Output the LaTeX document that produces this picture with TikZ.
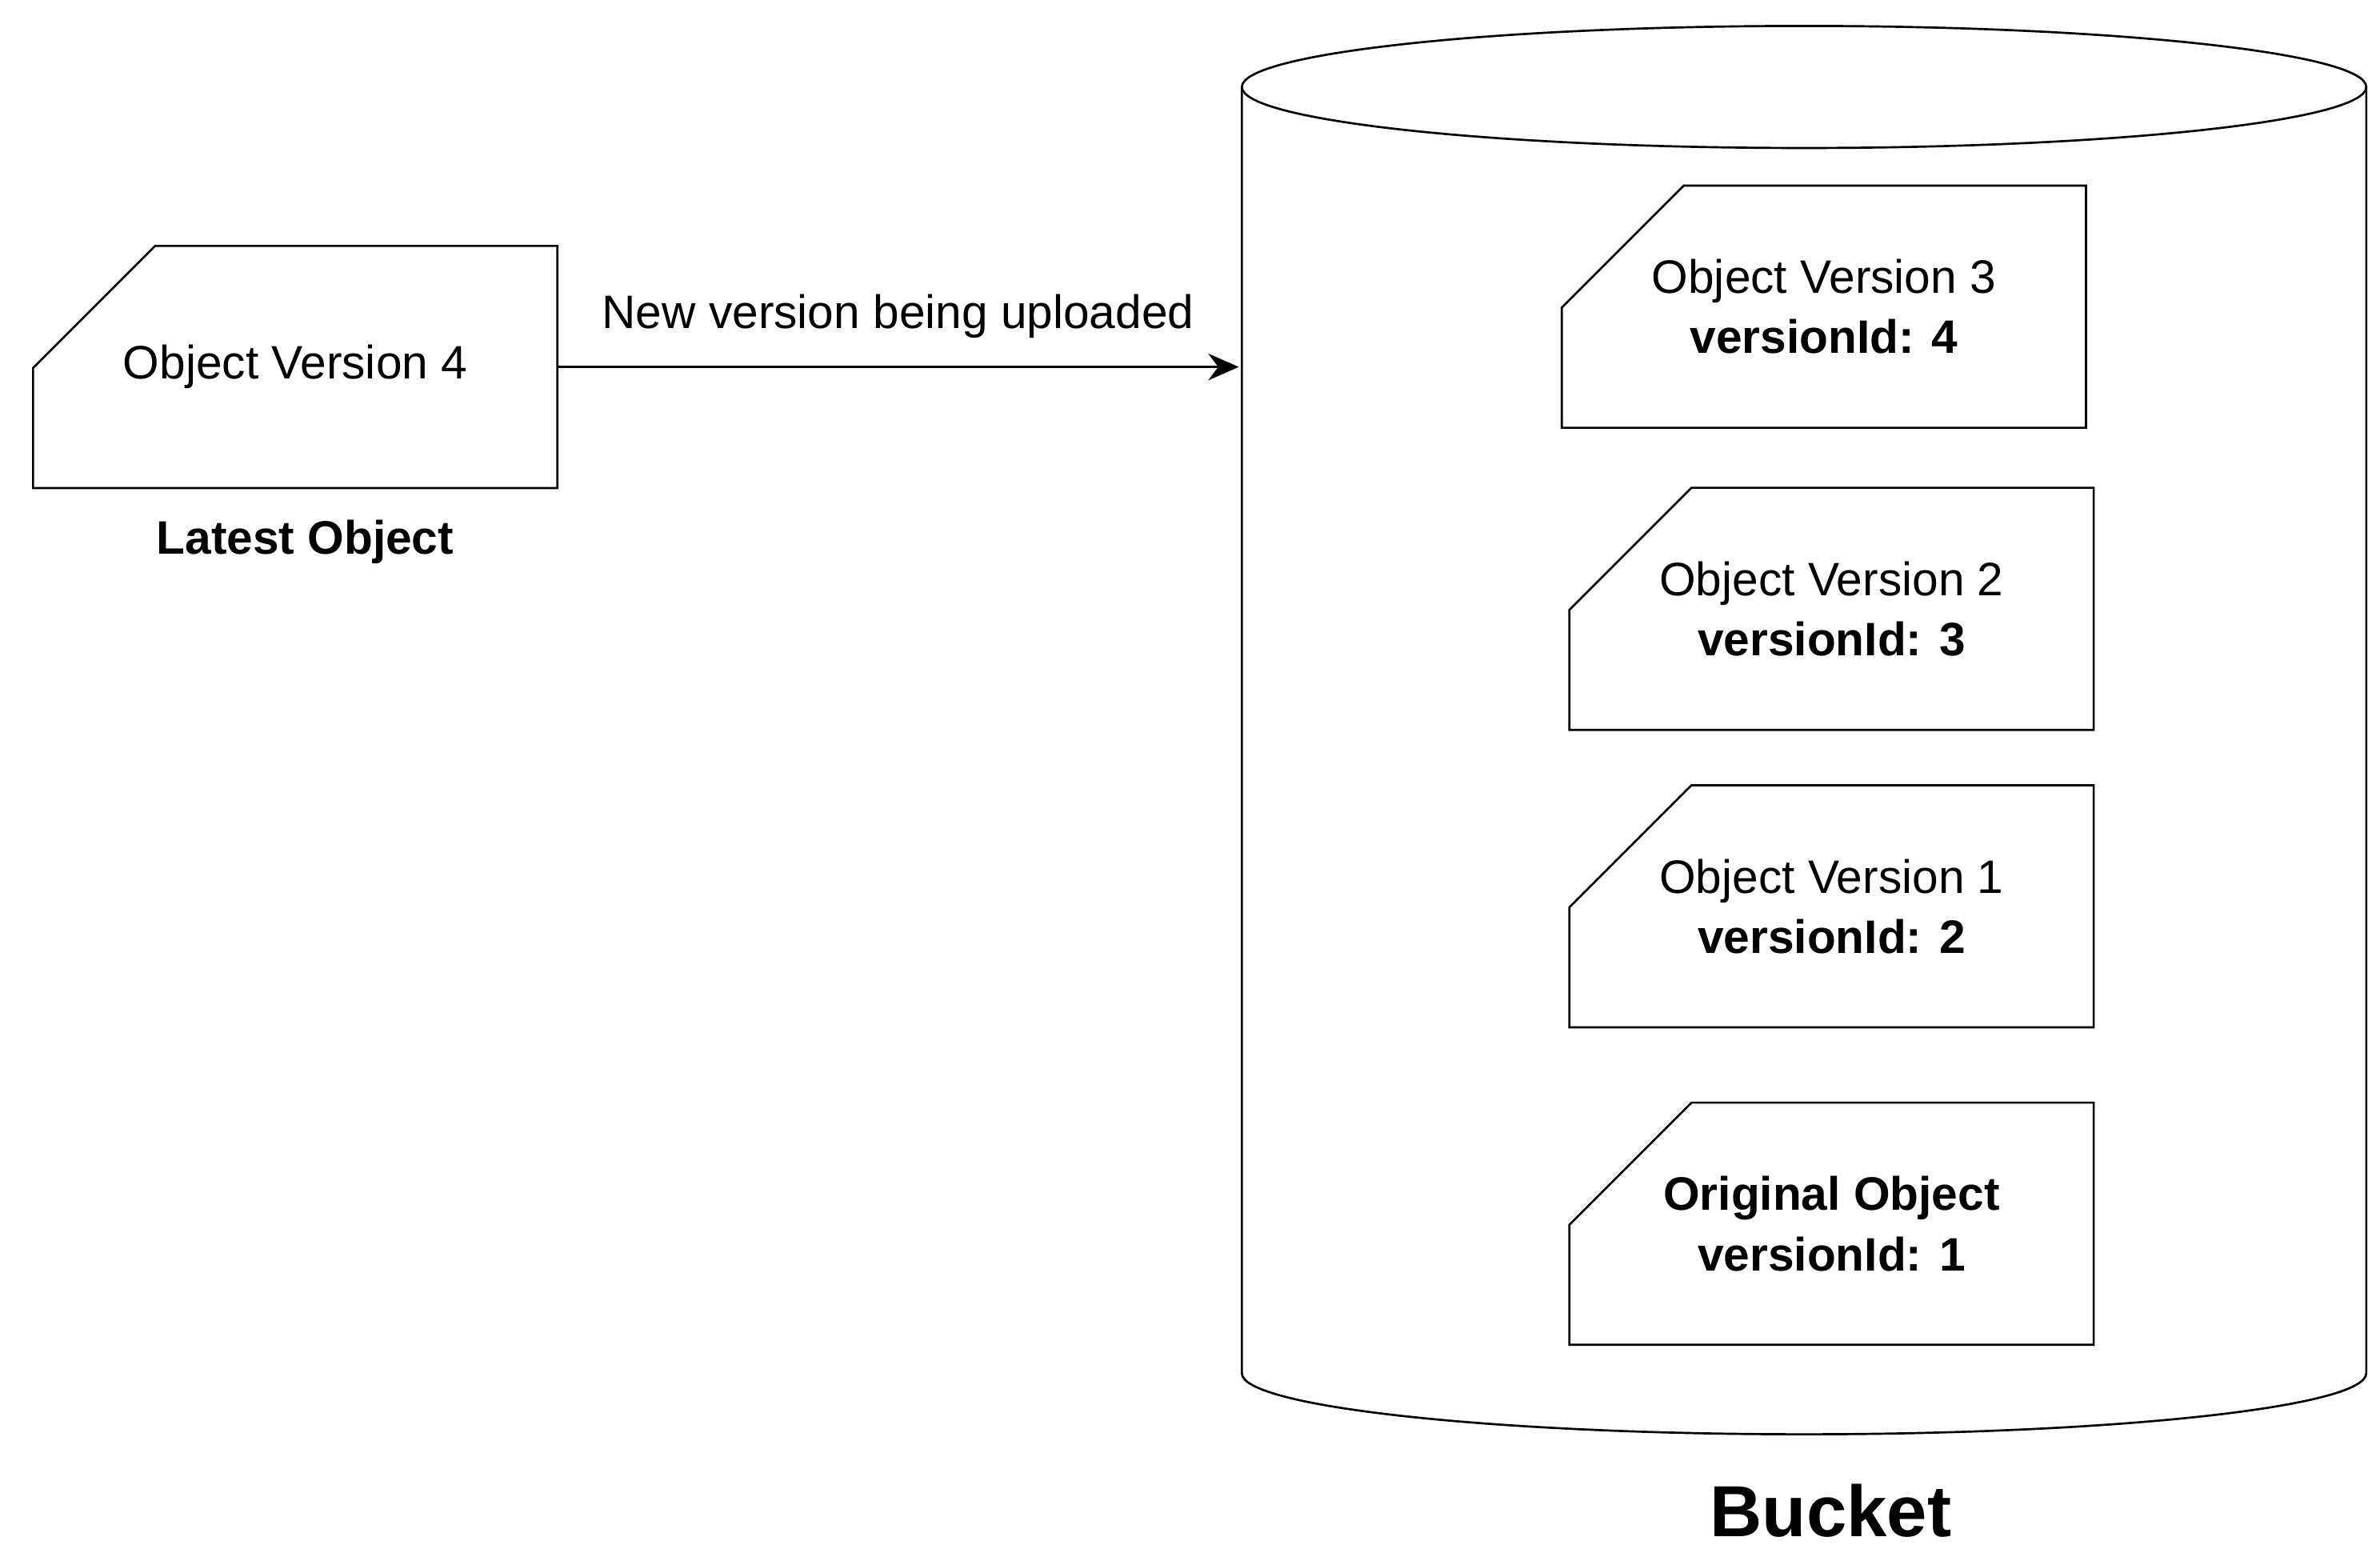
\documentclass[tikz,border=0pt]{standalone}
\usepackage{fontspec}
\setmainfont{Liberation Sans}
\usetikzlibrary{arrows.meta, positioning}

\newcommand{\cardoutline}[1]{%
  \draw[thick] (#1.south west) -- (#1.south east) -- (#1.north east)
    -- ([xshift=1.6cm]#1.north west) -- ([yshift=-1.6cm]#1.north west) -- cycle;}

\begin{document}
\begin{tikzpicture}[x=0.02cm, y=-0.02cm,
  card/.style={rectangle, inner sep=0pt, minimum width=6.86cm, minimum height=3.16cm, align=center, font=\fontsize{17.5}{22.5}\selectfont},
  arrow/.style={-{Stealth[length=4mm, width=3.5mm]}, thick}
]
  \useasboundingbox (0,0) rectangle (1560,1020);

  % Bucket
  \draw[thick] (814,57) -- (814,900) arc[start angle=180, end angle=0, x radius=368.5, y radius=40]
    -- (1551,57);
  \draw[thick] (1182.5,57) ellipse[x radius=368.5, y radius=40];
  \node[font=\fontsize{27}{32}\selectfont\bfseries] (bucket) at (1200,990) {Bucket};

  % Latest object
  \node[card] (latest) at (193.5,240.5) {Object Version 4};
  \cardoutline{latest}
  \node[font=\fontsize{17.5}{22}\selectfont\bfseries] (latestlbl) at (200,355) {Latest Object};

  % Versions in the bucket
  \node[card] (v3) at (1195.5,201) {Object Version 3\\\textbf{versionId: 4}};
  \node[card] (v2) at (1200.5,399) {Object Version 2\\\textbf{versionId: 3}};
  \node[card] (v1) at (1200.5,594) {Object Version 1\\\textbf{versionId: 2}};
  \node[card] (v0) at (1200.5,802) {\textbf{Original Object}\\\textbf{versionId: 1}};
  \foreach \n in {v3,v2,v1,v0} {\cardoutline{\n}}

  % Upload
  \coordinate (bucketin) at (812,240.5);
  \draw[arrow] (latest.east) -- node[above=0.25cm, font=\fontsize{17.5}{22}\selectfont] {New version being uploaded} (bucketin);
\end{tikzpicture}
\end{document}
